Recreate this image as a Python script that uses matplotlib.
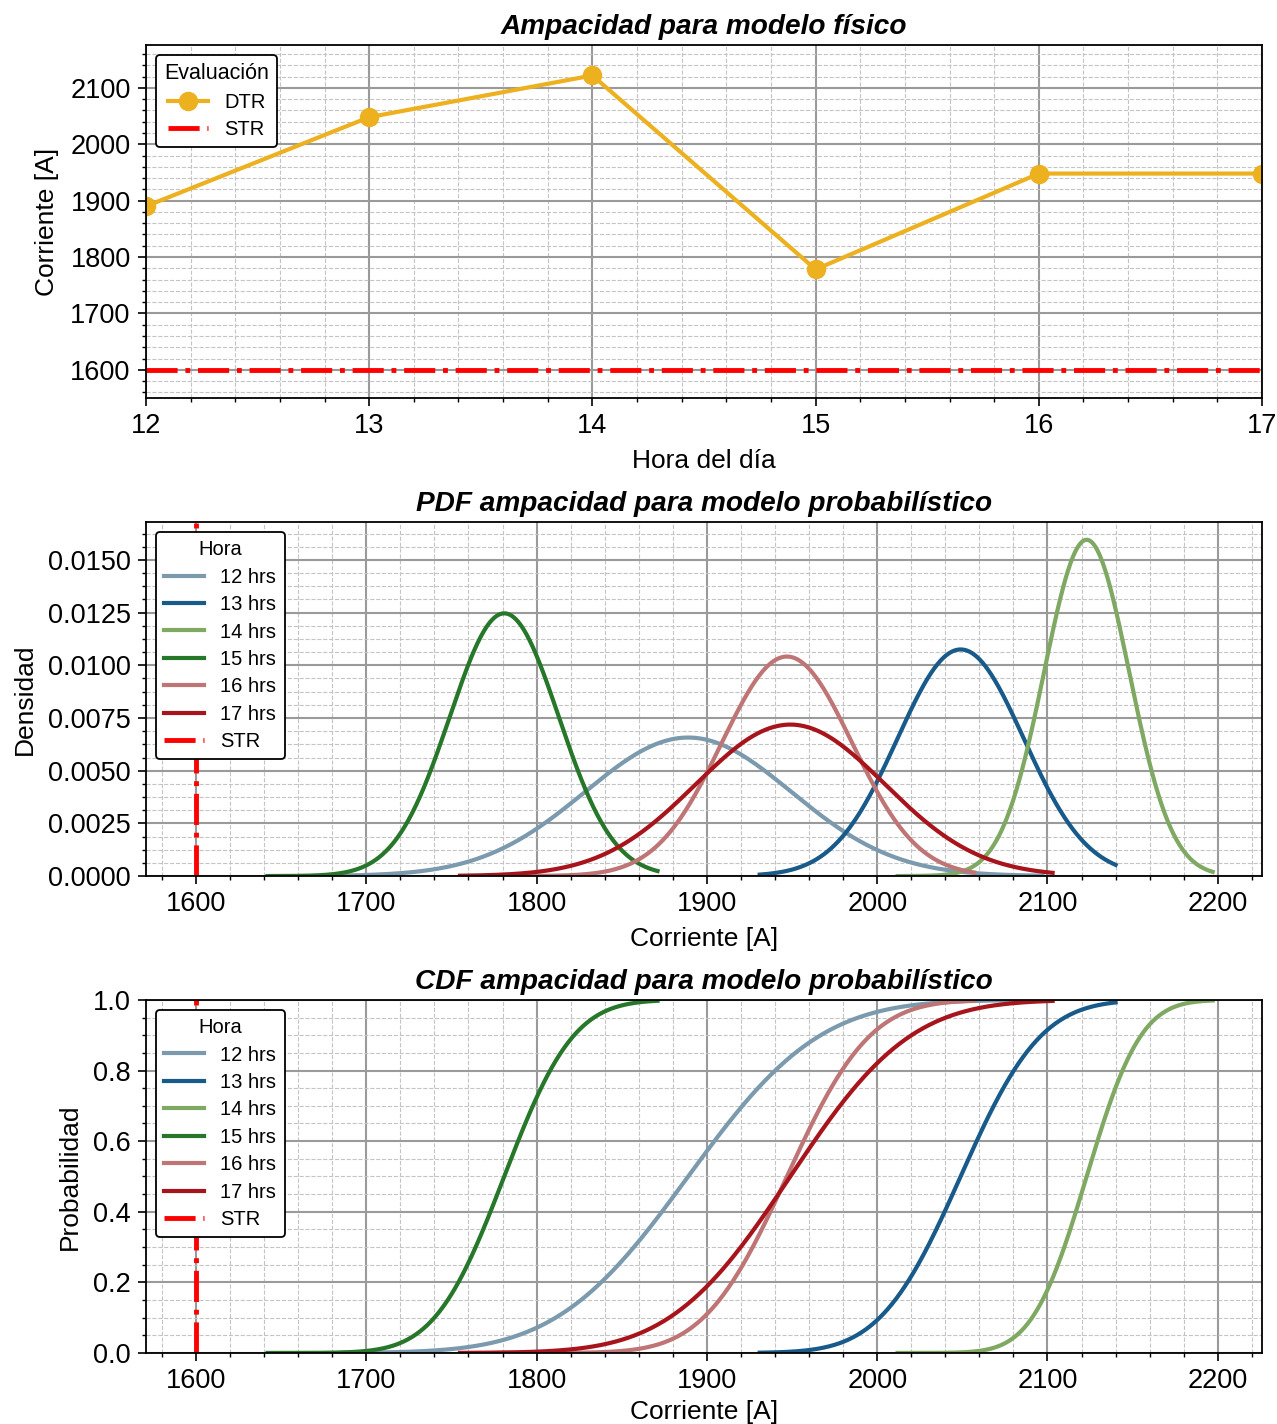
import math
import numpy as np
import matplotlib
matplotlib.use('Agg')
import matplotlib.pyplot as plt
from matplotlib.ticker import AutoMinorLocator, MultipleLocator

plt.rcParams['font.family'] = ['Liberation Sans', 'DejaVu Sans']

# ampacity per hour (physical model)
hours = [12, 13, 14, 15, 16, 17]
dtr = [1890, 2048, 2122, 1778, 1948, 1948]
str_value = 1600

# fitted normal distributions (probabilistic model)
labels = ['12 hrs', '13 hrs', '14 hrs', '15 hrs', '16 hrs', '17 hrs']
mu = [1889, 2049, 2123, 1781, 1947, 1949]
sigma = [60.7, 37.1, 25.0, 32.0, 38.3, 55.5]
x_lo = [1685, 1931, 2012, 1642, 1775, 1755]
x_hi = [2097, 2140, 2197, 1871, 2057, 2103]
colors = ['#7b9aae', '#185a8a', '#7fa862', '#27772a', '#bf7575', '#a8141c']

FS_TICK = 19.5
FS_LABEL = 19
FS_TITLE = 20.2
FS_LEG = 14.5


def style_axes(ax, ndiv_y=None):
    ax.minorticks_on()
    if ndiv_y:
        ax.yaxis.set_minor_locator(AutoMinorLocator(ndiv_y))
    ax.grid(which='major', color='#9a9a9a', linestyle='-', linewidth=1.5)
    ax.grid(which='minor', color='#c4c4c4', linestyle='--', linewidth=0.8)
    ax.set_axisbelow(True)
    ax.tick_params(which='major', length=6, width=1.2, labelsize=FS_TICK, pad=5)
    ax.tick_params(which='minor', length=3, width=1.0)
    for s in ax.spines.values():
        s.set_linewidth(1.3)


def set_texts(ax, title, xlabel, ylabel, xpad=7):
    ax.set_title(title, fontsize=FS_TITLE, fontweight='bold', style='italic', pad=8)
    ax.set_xlabel(xlabel, fontsize=FS_LABEL, labelpad=xpad)
    ax.set_ylabel(ylabel, fontsize=FS_LABEL, labelpad=8)


def legend(ax, title, title_size=FS_LEG):
    leg = ax.legend(loc='upper left', title=title, fontsize=FS_LEG,
                    title_fontsize=title_size, framealpha=1, edgecolor='black',
                    fancybox=True, borderaxespad=0.5, labelspacing=0.42)
    leg.get_frame().set_linewidth(1.3)
    return leg


def normal_pdf(x, m, s):
    return np.exp(-0.5 * ((x - m) / s) ** 2) / (s * np.sqrt(2 * np.pi))


def normal_cdf(x, m, s):
    return np.array([0.5 * (1 + math.erf((v - m) / (s * math.sqrt(2)))) for v in x])


fig = plt.figure(figsize=(12.77, 14.24), dpi=100)
left, width = 0.1143, 0.874
ax1 = fig.add_axes([left, 0.7205, width, 0.2479])
ax2 = fig.add_axes([left, 0.3848, width, 0.2486])
ax3 = fig.add_axes([left, 0.0499, width, 0.2479])

# physical model
ax1.plot(hours, dtr, color='#EDB120', linewidth=3, marker='o', markersize=13, label='DTR')
ax1.axhline(str_value, color='red', linestyle='-.', linewidth=3.5, label='STR')
ax1.set_xlim(12, 17)
ax1.set_ylim(1550, 2176)
ax1.xaxis.set_major_locator(MultipleLocator(1))
ax1.yaxis.set_major_locator(MultipleLocator(100))
style_axes(ax1)
set_texts(ax1, 'Ampacidad para modelo físico', 'Hora del día', 'Corriente [A]')
legend(ax1, 'Evaluación', title_size=15.5)

# PDF
for i in range(len(labels)):
    x = np.linspace(x_lo[i], x_hi[i], 400)
    ax2.plot(x, normal_pdf(x, mu[i], sigma[i]), color=colors[i], linewidth=3, label=labels[i])
ax2.axvline(str_value, color='red', linestyle='-.', linewidth=3.5, label='STR')
ax2.set_xlim(1570.6, 2226)
ax2.set_ylim(0, 0.0168)
ax2.yaxis.set_major_locator(MultipleLocator(0.0025))
style_axes(ax2, ndiv_y=4)
set_texts(ax2, 'PDF ampacidad para modelo probabilístico', 'Corriente [A]', 'Densidad')
legend(ax2, 'Hora')

# CDF
for i in range(len(labels)):
    x = np.linspace(x_lo[i], x_hi[i], 400)
    ax3.plot(x, normal_cdf(x, mu[i], sigma[i]), color=colors[i], linewidth=3, label=labels[i])
ax3.axvline(str_value, color='red', linestyle='-.', linewidth=3.5, label='STR')
ax3.set_xlim(1570.6, 2226)
ax3.set_ylim(0, 1.0)
ax3.yaxis.set_major_locator(MultipleLocator(0.2))
style_axes(ax3)
set_texts(ax3, 'CDF ampacidad para modelo probabilístico', 'Corriente [A]', 'Probabilidad', xpad=4)
legend(ax3, 'Hora')

plt.savefig('out.png', dpi=100)
